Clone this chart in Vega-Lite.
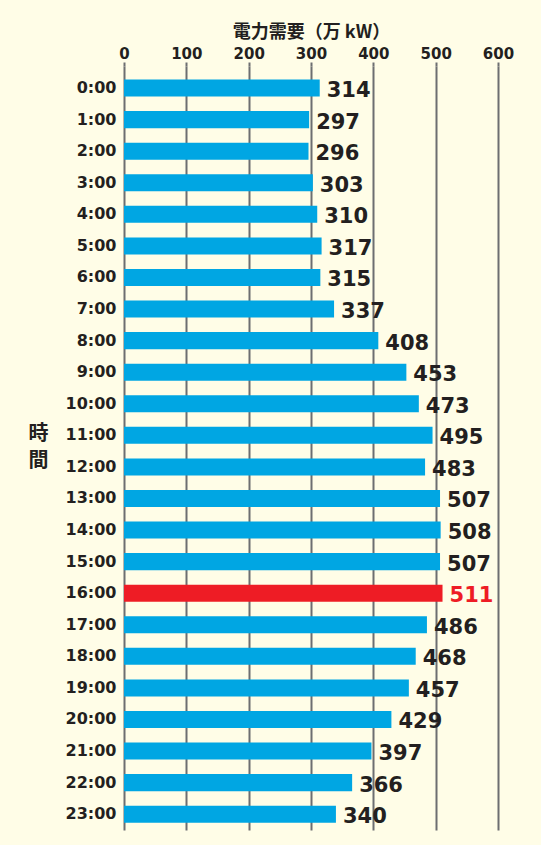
{
  "$schema": "https://vega.github.io/schema/vega-lite/v6.json",
  "autosize": "none",
  "width": 374,
  "height": 764,
  "padding": {"left": 124, "top": 66, "right": 43, "bottom": 15},
  "background": "#fffde7",
  "data": {"values": [
    {"time": "0:00", "value": 314},
    {"time": "1:00", "value": 297},
    {"time": "2:00", "value": 296},
    {"time": "3:00", "value": 303},
    {"time": "4:00", "value": 310},
    {"time": "5:00", "value": 317},
    {"time": "6:00", "value": 315},
    {"time": "7:00", "value": 337},
    {"time": "8:00", "value": 408},
    {"time": "9:00", "value": 453},
    {"time": "10:00", "value": 473},
    {"time": "11:00", "value": 495},
    {"time": "12:00", "value": 483},
    {"time": "13:00", "value": 507},
    {"time": "14:00", "value": 508},
    {"time": "15:00", "value": 507},
    {"time": "16:00", "value": 511},
    {"time": "17:00", "value": 486},
    {"time": "18:00", "value": 468},
    {"time": "19:00", "value": 457},
    {"time": "20:00", "value": 429},
    {"time": "21:00", "value": 397},
    {"time": "22:00", "value": 366},
    {"time": "23:00", "value": 340}
  ]},
  "encoding": {
    "y": {
      "field": "time", "type": "nominal", "sort": null,
      "scale": {"paddingInner": 0.46, "paddingOuter": 0.33, "align": 0.65},
      "axis": {
        "title": ["時", "間"],
        "titleAngle": 0,
        "titleFont": "Noto Sans CJK JP",
        "titleFontSize": 20,
        "titleFontWeight": "bold",
        "titleColor": "#231f20",
        "titleLineHeight": 27,
        "titleAlign": "center",
        "titleBaseline": "middle",
        "titleX": -86,
        "titleY": 367,
        "labelFont": "DejaVu Sans",
        "labelFontSize": 16,
        "labelFontWeight": "bold",
        "labelColor": "#231f20",
        "labelPadding": 8,
        "ticks": false,
        "domain": false,
        "grid": false
      }
    }
  },
  "layer": [
    {
      "mark": {"type": "bar"},
      "encoding": {
        "x": {
          "field": "value", "type": "quantitative",
          "scale": {"domain": [0, 600], "nice": false},
          "axis": {
            "orient": "top",
            "title": "電力需要（万 kW）",
            "titleFont": "Noto Sans CJK JP",
            "titleFontSize": 18,
            "titleFontWeight": "bold",
            "titleColor": "#231f20",
            "titlePadding": 5,
            "values": [0, 100, 200, 300, 400, 500, 600],
            "labelFont": "DejaVu Sans",
            "labelFontSize": 15,
            "labelFontWeight": "bold",
            "labelColor": "#231f20",
            "labelPadding": 1,
            "labelFlush": false,
            "tickSize": 4,
            "tickColor": "#6d6e71",
            "tickWidth": 2,
            "domain": false,
            "grid": true,
            "gridColor": "#6d6e71",
            "gridWidth": 2,
            "gridOpacity": 1
          }
        },
        "color": {
          "condition": {"test": "datum.time === '16:00'", "value": "#ee1c25"},
          "value": "#00a6e3"
        }
      }
    },
    {
      "mark": {"type": "text", "align": "left", "baseline": "middle", "dx": 7, "dy": 3, "font": "DejaVu Sans", "fontSize": 21, "fontWeight": "bold"},
      "encoding": {
        "x": {"field": "value", "type": "quantitative"},
        "text": {"field": "value", "type": "quantitative"},
        "color": {
          "condition": {"test": "datum.time === '16:00'", "value": "#ee1c25"},
          "value": "#231f20"
        }
      }
    }
  ],
  "config": {"view": {"stroke": null}}
}
